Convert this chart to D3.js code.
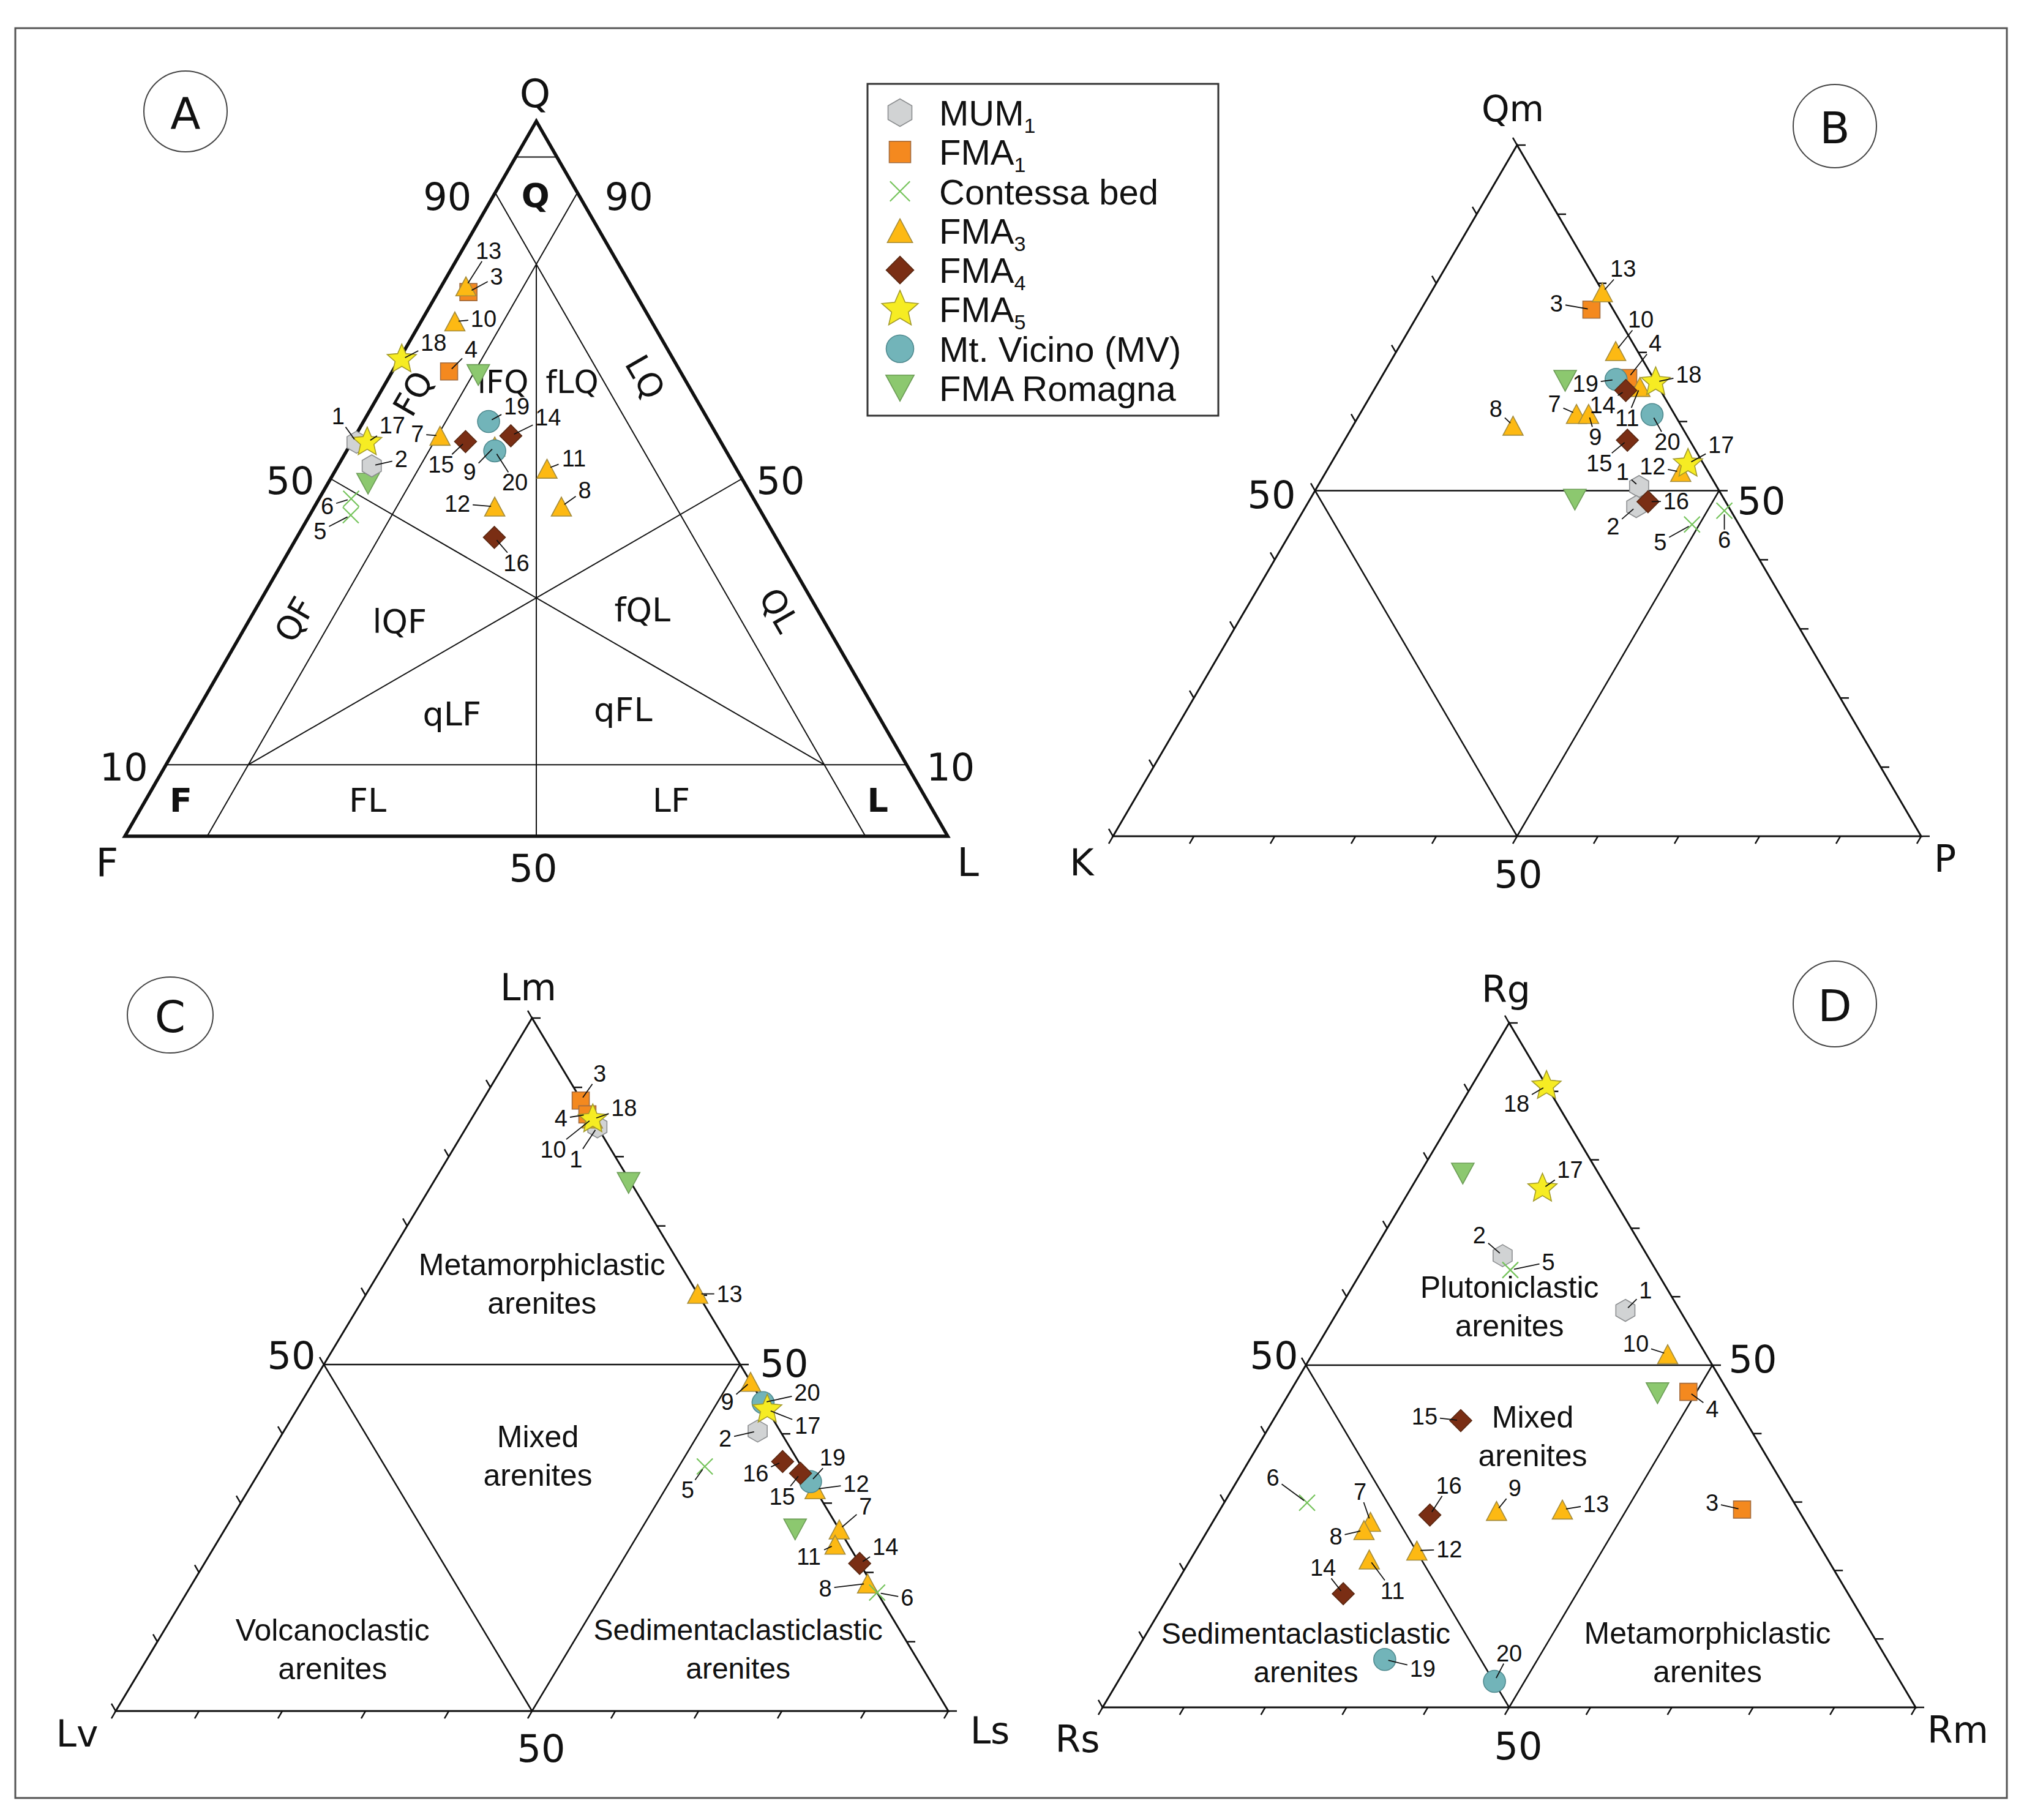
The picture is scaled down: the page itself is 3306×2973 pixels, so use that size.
<!DOCTYPE html>
<html>
<head>
<meta charset="utf-8">
<script src="https://cdn.jsdelivr.net/npm/d3@7"></script>
<style>
  body { margin: 0; background: #fff; }
</style>
</head>
<body>
<svg id="chart"></svg>
<script>
// samples 1-20 plus two unlabelled FMA Romagna points
const sampleIds = ["1","2","3","4","5","6","7","8","9","10","11","12","13","14","15","16","17","18","19","20","",""];
const sampleGroups = ["MUM1","MUM1","FMA1","FMA1","Contessa","Contessa",
  "FMA3","FMA3","FMA3","FMA3","FMA3","FMA3","FMA3","FMA4","FMA4","FMA4",
  "FMA5","FMA5","MV","MV","Romagna","Romagna"];

// A: [Q, F, L]
const qfl = [[55.1,44.3,0.6],[51.8,44.1,4.1],[76.1,20.2,3.7],[65.0,28.1,6.9],[44.9,50.1,5.0],[47.2,48.9,3.9],
  [56.0,33.7,10.3],[46.1,23.9,30.0],[54.5,27.8,17.7],[72.0,23.9,4.1],[51.4,23.0,25.6],[46.1,32.0,21.9],
  [76.9,20.1,3.0],[56.0,25.1,18.9],[55.2,31.0,13.8],[41.8,34.2,24.0],[55.1,43.0,1.9],[66.7,33.0,0.3],
  [58.0,26.8,15.2],[53.9,28.1,18.0],[64.5,24.8,10.7],[49.3,45.8,4.9]];
// B: [Qm, K, P]
const qmkp = [[50.6,9.6,39.8],[47.7,11.4,40.9],[76.2,2.7,21.1],[66.3,3.1,30.6],[45.1,5.8,49.1],[47.1,0.8,52.1],
  [61.1,12.1,26.8],[59.4,20.8,19.8],[61.1,10.6,28.3],[70.2,2.7,27.1],[65.0,2.3,32.7],[52.7,3.4,43.9],
  [78.7,0.1,21.2],[64.5,4.3,31.2],[57.3,7.7,35.0],[48.4,9.6,42.0],[53.9,1.9,44.2],[65.7,0.0,34.3],
  [66.1,4.7,29.2],[61.0,2.8,36.2],[65.9,11.1,23.0],[48.7,18.5,32.8]];
// C: [Lm, Lv, Ls]
const lmlvls = [[84.3,0.0,15.7],[40.4,2.7,56.9],[88.1,0.1,11.8],[86.1,0.3,13.6],[35.3,11.6,53.1],[17.1,0.0,82.9],
  [26.2,0.0,73.8],[18.4,0.5,81.1],[47.5,0.0,52.5],[85.5,0.0,14.5],[24.0,1.6,74.4],[32.0,0.0,68.0],
  [60.2,0.0,39.8],[21.3,0.0,78.7],[34.3,0.6,65.1],[36.0,1.9,62.1],[43.5,0.0,56.5],[85.4,0.0,14.6],
  [33.1,0.0,66.9],[44.5,0.0,55.5],[76.2,0.3,23.5],[26.2,5.3,68.5]];
// D: [Rg, Rs, Rm]
const rgrsrm = [[58.0,6.7,35.3],[66.0,17.8,16.2],[28.9,6.9,64.2],[46.1,4.9,49.0],[63.9,17.9,18.2],[29.9,59.9,10.2],
  [27.1,53.5,19.4],[25.9,54.9,19.2],[28.7,37.2,34.1],[51.6,4.7,43.7],[21.6,56.4,22.0],[22.9,49.9,27.2],
  [28.9,29.0,42.1],[16.6,62.1,21.3],[41.9,35.0,23.1],[28.1,45.7,26.2],[75.8,8.0,16.2],[90.8,0.0,9.2],
  [7.0,61.8,31.2],[3.8,49.9,46.3],[78.0,16.7,5.3],[45.9,8.8,45.3]];

const legendNames = ["MUM","FMA","Contessa bed","FMA","FMA","FMA","Mt. Vicino (MV)","FMA Romagna"];
const legendSubs = ["1","1","","3","4","5","",""];
const legendGroups = ["MUM1","FMA1","Contessa","FMA3","FMA4","FMA5","MV","Romagna"];

const groupStyle = {
  MUM1:     {shape: "hexagon",  fill: "#d1d3d4", stroke: "#8c8e90"},
  FMA1:     {shape: "square",   fill: "#f4891f", stroke: "#a26c40"},
  Contessa: {shape: "cross",    fill: "none",    stroke: "#74c35a"},
  FMA3:     {shape: "triangle", fill: "#fdb913", stroke: "#a38b3c"},
  FMA4:     {shape: "diamond",  fill: "#7a2e14", stroke: "#5a2812"},
  FMA5:     {shape: "star",     fill: "#f6ec23", stroke: "#a39a2a"},
  MV:       {shape: "circle",   fill: "#72b4b9", stroke: "#4f8a8f"},
  Romagna:  {shape: "downTriangle", fill: "#8cc86f", stroke: "#6d9d57"}
};
const drawOrder = ["Romagna","MUM1","FMA1","FMA3","Contessa","MV","FMA4","FMA5"];

// number label offsets (px) for each panel
const offA = {1:[-30,-42],2:[48,-11],3:[46,-25],4:[36,-36],5:[-50,26],6:[-39,12],7:[-37,-3],8:[38,-27],9:[-41,42],10:[47,-4],
  11:[44,-17],12:[-61,-5],13:[37,-58],14:[61,-30],15:[-40,38],16:[36,42],17:[41,-27],18:[52,-27],19:[46,-25],20:[33,52]};
const offB = {1:[-27,-24],2:[-38,33],3:[-57,-10],4:[44,-56],5:[-52,29],6:[0,48],7:[-36,-16],8:[-28,-27],9:[11,38],10:[41,-51],
  11:[-21,51],12:[-46,-9],13:[34,-38],14:[-38,24],15:[-46,38],16:[46,-1],17:[54,-30],18:[54,-12],19:[-50,7],20:[25,45]};
const offC = {1:[-35,53],2:[-53,12],3:[31,-44],4:[-43,7],5:[-28,39],6:[49,9],7:[43,-37],8:[-69,8],9:[-38,33],10:[-64,51],
  11:[-43,20],12:[67,-9],13:[52,0],14:[42,-27],15:[-30,38],16:[-44,20],17:[66,26],18:[51,-18],19:[36,-39],20:[72,-16]};
const offD = {1:[33,-33],2:[-38,-33],3:[-49,-11],4:[39,28],5:[62,-13],6:[-56,-41],7:[-17,-49],8:[-46,11],9:[30,-37],10:[-52,-17],
  11:[38,51],12:[53,-2],13:[55,-9],14:[-33,-42],15:[-59,-7],16:[31,-48],17:[45,-31],18:[-49,29],19:[62,15],20:[24,-46]};

const AX = "DejaVu Sans, Verdana, sans-serif";
const AR = "Liberation Sans, Arial, sans-serif";

const W = 3306, H = 2973;
const svg = d3.select("#chart").attr("width", W).attr("height", H);
svg.append("rect").attr("width", W).attr("height", H).attr("fill", "#fff");
svg.append("rect").attr("x", 25).attr("y", 46).attr("width", 3253).attr("height", 2891)
  .attr("fill", "none").attr("stroke", "#555").attr("stroke-width", 3);

function symbolPath(shape, k) {
  const p = d3.path();
  if (shape === "hexagon") {
    const r = 18 * k;
    for (let i = 0; i < 6; i++) {
      const a = -Math.PI / 2 + i * Math.PI / 3;
      if (i === 0) p.moveTo(r * Math.cos(a), r * Math.sin(a)); else p.lineTo(r * Math.cos(a), r * Math.sin(a));
    }
    p.closePath();
  } else if (shape === "square") {
    const h = 14 * k; p.rect(-h, -h, 2 * h, 2 * h);
  } else if (shape === "triangle") {
    const w = 16.5 * k, h = 15.5 * k;
    p.moveTo(0, -h); p.lineTo(w, h); p.lineTo(-w, h); p.closePath();
  } else if (shape === "downTriangle") {
    const w = 18.5 * k, h = 17 * k;
    p.moveTo(-w, -h); p.lineTo(w, -h); p.lineTo(0, h); p.closePath();
  } else if (shape === "diamond") {
    const r = 18 * k;
    p.moveTo(0, -r); p.lineTo(r, 0); p.lineTo(0, r); p.lineTo(-r, 0); p.closePath();
  } else if (shape === "star") {
    const R = 25 * k, r = 11.5 * k;
    for (let i = 0; i < 10; i++) {
      const a = -Math.PI / 2 + i * Math.PI / 5, rr = i % 2 ? r : R;
      if (i === 0) p.moveTo(rr * Math.cos(a), rr * Math.sin(a)); else p.lineTo(rr * Math.cos(a), rr * Math.sin(a));
    }
    p.closePath();
  } else if (shape === "circle") {
    p.arc(0, 0, 18 * k, 0, 2 * Math.PI);
  } else if (shape === "cross") {
    const h = 13 * k;
    p.moveTo(-h, -h); p.lineTo(h, h); p.moveTo(h, -h); p.lineTo(-h, h);
  }
  return p.toString();
}

function drawMarker(g, group, x, y, k) {
  const st = groupStyle[group];
  g.append("path").attr("d", symbolPath(st.shape, k))
    .attr("transform", `translate(${x},${y})`)
    .attr("fill", st.fill).attr("stroke", st.stroke)
    .attr("stroke-width", st.shape === "cross" ? 2.2 : 1.6);
}

// ternary projection built on two linear scales: [top, left, right] -> [x, y]
function makeProj(p) {
  const x = d3.scaleLinear().domain([0, 100]).range([p.x0, p.x1]);
  const y = d3.scaleLinear().domain([0, 100]).range([p.y0, p.y1]);
  return c => {
    const s = c[0] + c[1] + c[2];
    const t = c[0] / s * 100, r = c[2] / s * 100;
    return [x(r + t / 2), y(t)];
  };
}

function text(g, str, x, y, size, opts = {}) {
  return g.append("text").attr("x", x).attr("y", y).text(str)
    .attr("font-family", opts.family || AX).attr("font-size", size)
    .attr("font-weight", opts.bold ? "bold" : "normal")
    .attr("text-anchor", opts.anchor || "middle")
    .attr("dominant-baseline", opts.baseline || "auto")
    .attr("transform", opts.rotate ? `rotate(${opts.rotate},${x},${y})` : null)
    .attr("fill", "#111");
}

function drawPanel(cfg) {
  const g = svg.append("g");
  const proj = makeProj(cfg.geom);
  const line = (a, b, w) => {
    const p = proj(a), q = proj(b);
    g.append("line").attr("x1", p[0]).attr("y1", p[1]).attr("x2", q[0]).attr("y2", q[1])
      .attr("stroke", "#111").attr("stroke-width", w);
  };
  cfg.inner.forEach(d => line(d[0], d[1], cfg.innerWidth));
  const corners = [[100,0,0],[0,100,0],[0,0,100]].map(proj);
  g.append("path").attr("d", d3.line()(corners) + "Z")
    .attr("fill", "none").attr("stroke", "#111").attr("stroke-width", cfg.outerWidth)
    .attr("stroke-linejoin", "miter");

  if (cfg.ticks) {
    const len = 14;
    d3.range(0, 101, 10).forEach(v => {
      const sets = [
        [[v, 100 - v, 0], [-0.5, -0.866]],
        [[0, 100 - v, v], [-0.5, 0.866]],
        [[v, 0, 100 - v], [1, 0]]
      ];
      sets.forEach(([c, dir]) => {
        const p = proj(c);
        g.append("line").attr("x1", p[0]).attr("y1", p[1])
          .attr("x2", p[0] + dir[0] * len).attr("y2", p[1] + dir[1] * len)
          .attr("stroke", "#111").attr("stroke-width", 2.5);
      });
    });
  }

  cfg.axisLabels.forEach(d => {
    const p = proj(d.at);
    text(g, d.text, p[0] + d.dx, p[1] + d.dy, d.size);
  });

  cfg.regions.forEach(d => {
    const p = proj(d.at);
    const lines = d.text.split("\n");
    lines.forEach((ln, i) => {
      const yy = p[1] + (i - (lines.length - 1) / 2) * cfg.regionLead;
      text(g, ln, p[0], yy, d.size || cfg.regionSize, {family: cfg.regionFamily, bold: d.bold, rotate: d.rotate, baseline: "central"});
    });
  });

  // markers
  const idx = d3.range(sampleIds.length)
    .sort((a, b) => drawOrder.indexOf(sampleGroups[a]) - drawOrder.indexOf(sampleGroups[b]));
  idx.forEach(i => {
    const p = proj(cfg.data[i]);
    drawMarker(g, sampleGroups[i], p[0], p[1], 1);
  });

  // number labels with leaders
  sampleIds.forEach((id, i) => {
    if (!id) return;
    const p = proj(cfg.data[i]);
    const o = cfg.offsets[id];
    const lx = p[0] + o[0], ly = p[1] + o[1];
    const hw = 10.5 * id.length + 4, hh = 17;
    const t = Math.min(o[0] ? hw / Math.abs(o[0]) : 9, o[1] ? hh / Math.abs(o[1]) : 9);
    const len = Math.hypot(o[0], o[1]);
    const s0 = Math.min(0.35, 6 / len);
    if (t < 1) {
      g.append("line")
        .attr("x1", p[0] + o[0] * s0).attr("y1", p[1] + o[1] * s0)
        .attr("x2", lx - o[0] * t).attr("y2", ly - o[1] * t)
        .attr("stroke", "#111").attr("stroke-width", 1.8);
    }
    text(g, id, lx, ly, 38, {family: AR, baseline: "central"});
  });
}

const geomA = {x0: 204, x1: 1548, y0: 1366, y1: 198};
const geomB = {x0: 1818, x1: 3138, y0: 1366, y1: 237};
const geomC = {x0: 189, x1: 1549, y0: 2795, y1: 1663};
const geomD = {x0: 1801, x1: 3129, y0: 2789, y1: 1671};
const subLines = [[[50,50,0],[50,0,50]], [[50,50,0],[0,50,50]], [[50,0,50],[0,50,50]]];

drawPanel({
  geom: geomA, data: qfl, offsets: offA, ticks: false, outerWidth: 5.5, innerWidth: 2,
  inner: [[[95,5,0],[95,0,5]], [[90,10,0],[0,10,90]], [[90,0,10],[0,90,10]], [[10,90,0],[10,0,90]],
          [[80,10,10],[0,50,50]], [[50,50,0],[10,10,80]], [[50,0,50],[10,80,10]]],
  axisLabels: [
    {text: "Q", at: [100,0,0], dx: -2, dy: -23, size: 64},
    {text: "F", at: [0,100,0], dx: -29, dy: 65, size: 64},
    {text: "L", at: [0,0,100], dx: 33, dy: 65, size: 64},
    {text: "50", at: [0,50,50], dx: -5, dy: 74, size: 62},
    {text: "90", at: [90,10,0], dx: -78, dy: 28, size: 62},
    {text: "90", at: [90,0,10], dx: 84, dy: 28, size: 62},
    {text: "50", at: [50,50,0], dx: -66, dy: 25, size: 62},
    {text: "50", at: [50,0,50], dx: 63, dy: 25, size: 62},
    {text: "10", at: [10,90,0], dx: -69, dy: 26, size: 62},
    {text: "10", at: [10,0,90], dx: 72, dy: 26, size: 62}
  ],
  regionFamily: AX, regionSize: 54, regionLead: 0,
  regions: [
    {text: "Q", at: [89.6,5.3,5.1], bold: true},
    {text: "FQ", at: [61.9,34.0,4.1], rotate: -60},
    {text: "lFQ", at: [63.5,22.3,14.2], size: 51},
    {text: "fLQ", at: [63.5,13.9,22.6], size: 51},
    {text: "LQ", at: [64.2,4.7,31.1], rotate: 60},
    {text: "QF", at: [30.3,64.2,5.5], rotate: -60},
    {text: "lQF", at: [30.0,51.6,18.4]},
    {text: "fQL", at: [31.6,21.3,47.1]},
    {text: "QL", at: [31.6,4.7,63.7], rotate: 60},
    {text: "qLF", at: [17.1,51.7,31.2]},
    {text: "qFL", at: [17.7,30.6,51.7]},
    {text: "FL", at: [5.0,68.0,27.0]},
    {text: "LF", at: [5.0,31.1,63.9]},
    {text: "F", at: [5.0,90.7,4.3], bold: true},
    {text: "L", at: [5.0,6.0,89.0], bold: true}
  ]
});

drawPanel({
  geom: geomB, data: qmkp, offsets: offB, ticks: true, outerWidth: 3, innerWidth: 2.5, inner: subLines,
  axisLabels: [
    {text: "Qm", at: [100,0,0], dx: -7, dy: -39, size: 58},
    {text: "K", at: [0,100,0], dx: -51, dy: 64, size: 60},
    {text: "P", at: [0,0,100], dx: 39, dy: 58, size: 60},
    {text: "50", at: [50,50,0], dx: -71, dy: 28, size: 62},
    {text: "50", at: [50,0,50], dx: 69, dy: 38, size: 62},
    {text: "50", at: [0,50,50], dx: 2, dy: 84, size: 62}
  ],
  regionFamily: AR, regionSize: 50, regionLead: 63, regions: []
});

drawPanel({
  geom: geomC, data: lmlvls, offsets: offC, ticks: true, outerWidth: 3, innerWidth: 2.5, inner: subLines,
  axisLabels: [
    {text: "Lm", at: [100,0,0], dx: -6, dy: -29, size: 60},
    {text: "Lv", at: [0,100,0], dx: -63, dy: 58, size: 60},
    {text: "Ls", at: [0,0,100], dx: 68, dy: 53, size: 60},
    {text: "50", at: [50,50,0], dx: -53, dy: 7, size: 62},
    {text: "50", at: [50,0,50], dx: 72, dy: 20, size: 62},
    {text: "50", at: [0,50,50], dx: 15, dy: 83, size: 62}
  ],
  regionFamily: AR, regionSize: 50, regionLead: 63,
  regions: [
    {text: "Metamorphiclastic\narenites", at: [61.6,18.0,20.4]},
    {text: "Mixed\narenites", at: [36.8,30.9,32.3]},
    {text: "Volcanoclastic\narenites", at: [8.9,69.5,21.6]},
    {text: "Sedimentaclasticlastic\narenites", at: [8.9,20.8,70.3], size: 48}
  ]
});

drawPanel({
  geom: geomD, data: rgrsrm, offsets: offD, ticks: true, outerWidth: 3, innerWidth: 2.5, inner: subLines,
  axisLabels: [
    {text: "Rg", at: [100,0,0], dx: -5, dy: -34, size: 60},
    {text: "Rs", at: [0,100,0], dx: -41, dy: 73, size: 60},
    {text: "Rm", at: [0,0,100], dx: 69, dy: 58, size: 60},
    {text: "50", at: [50,50,0], dx: -52, dy: 6, size: 62},
    {text: "50", at: [50,0,50], dx: 66, dy: 12, size: 62},
    {text: "50", at: [0,50,50], dx: 15, dy: 85, size: 62}
  ],
  regionFamily: AR, regionSize: 50, regionLead: 63,
  regions: [
    {text: "Plutoniclastic\narenites", at: [58.5,20.7,20.8]},
    {text: "Mixed\narenites", at: [39.6,27.3,33.1]},
    {text: "Sedimentaclasticlastic\narenites", at: [8.0,71.0,21.0], size: 48},
    {text: "Metamorphiclastic\narenites", at: [8.0,21.6,70.4]}
  ]
});

// panel letters
[["A", 303, 182, 68, 66], ["B", 2997, 206, 68, 68], ["C", 278, 1658, 70, 62], ["D", 2997, 1640, 68, 70]].forEach(d => {
  svg.append("ellipse").attr("cx", d[1]).attr("cy", d[2]).attr("rx", d[3]).attr("ry", d[4])
    .attr("fill", "none").attr("stroke", "#444").attr("stroke-width", 2);
  text(svg, d[0], d[1], d[2] + 3, 72, {baseline: "central"});
});

// legend
const lg = svg.append("g");
lg.append("rect").attr("x", 1417).attr("y", 137).attr("width", 573).attr("height", 542)
  .attr("fill", "#fff").attr("stroke", "#333").attr("stroke-width", 3);
const rowY = d3.scaleLinear().domain([0, legendNames.length - 1]).range([184, 634]);
legendNames.forEach((name, i) => {
  const y = rowY(i);
  drawMarker(lg, legendGroups[i], 1470, y, 1.25);
  const t = text(lg, name, 1534, y + 21, 58, {family: AR, anchor: "start"});
  if (legendSubs[i]) t.append("tspan").attr("font-size", 34).attr("dy", 12).text(legendSubs[i]);
});
</script>
</body>
</html>
